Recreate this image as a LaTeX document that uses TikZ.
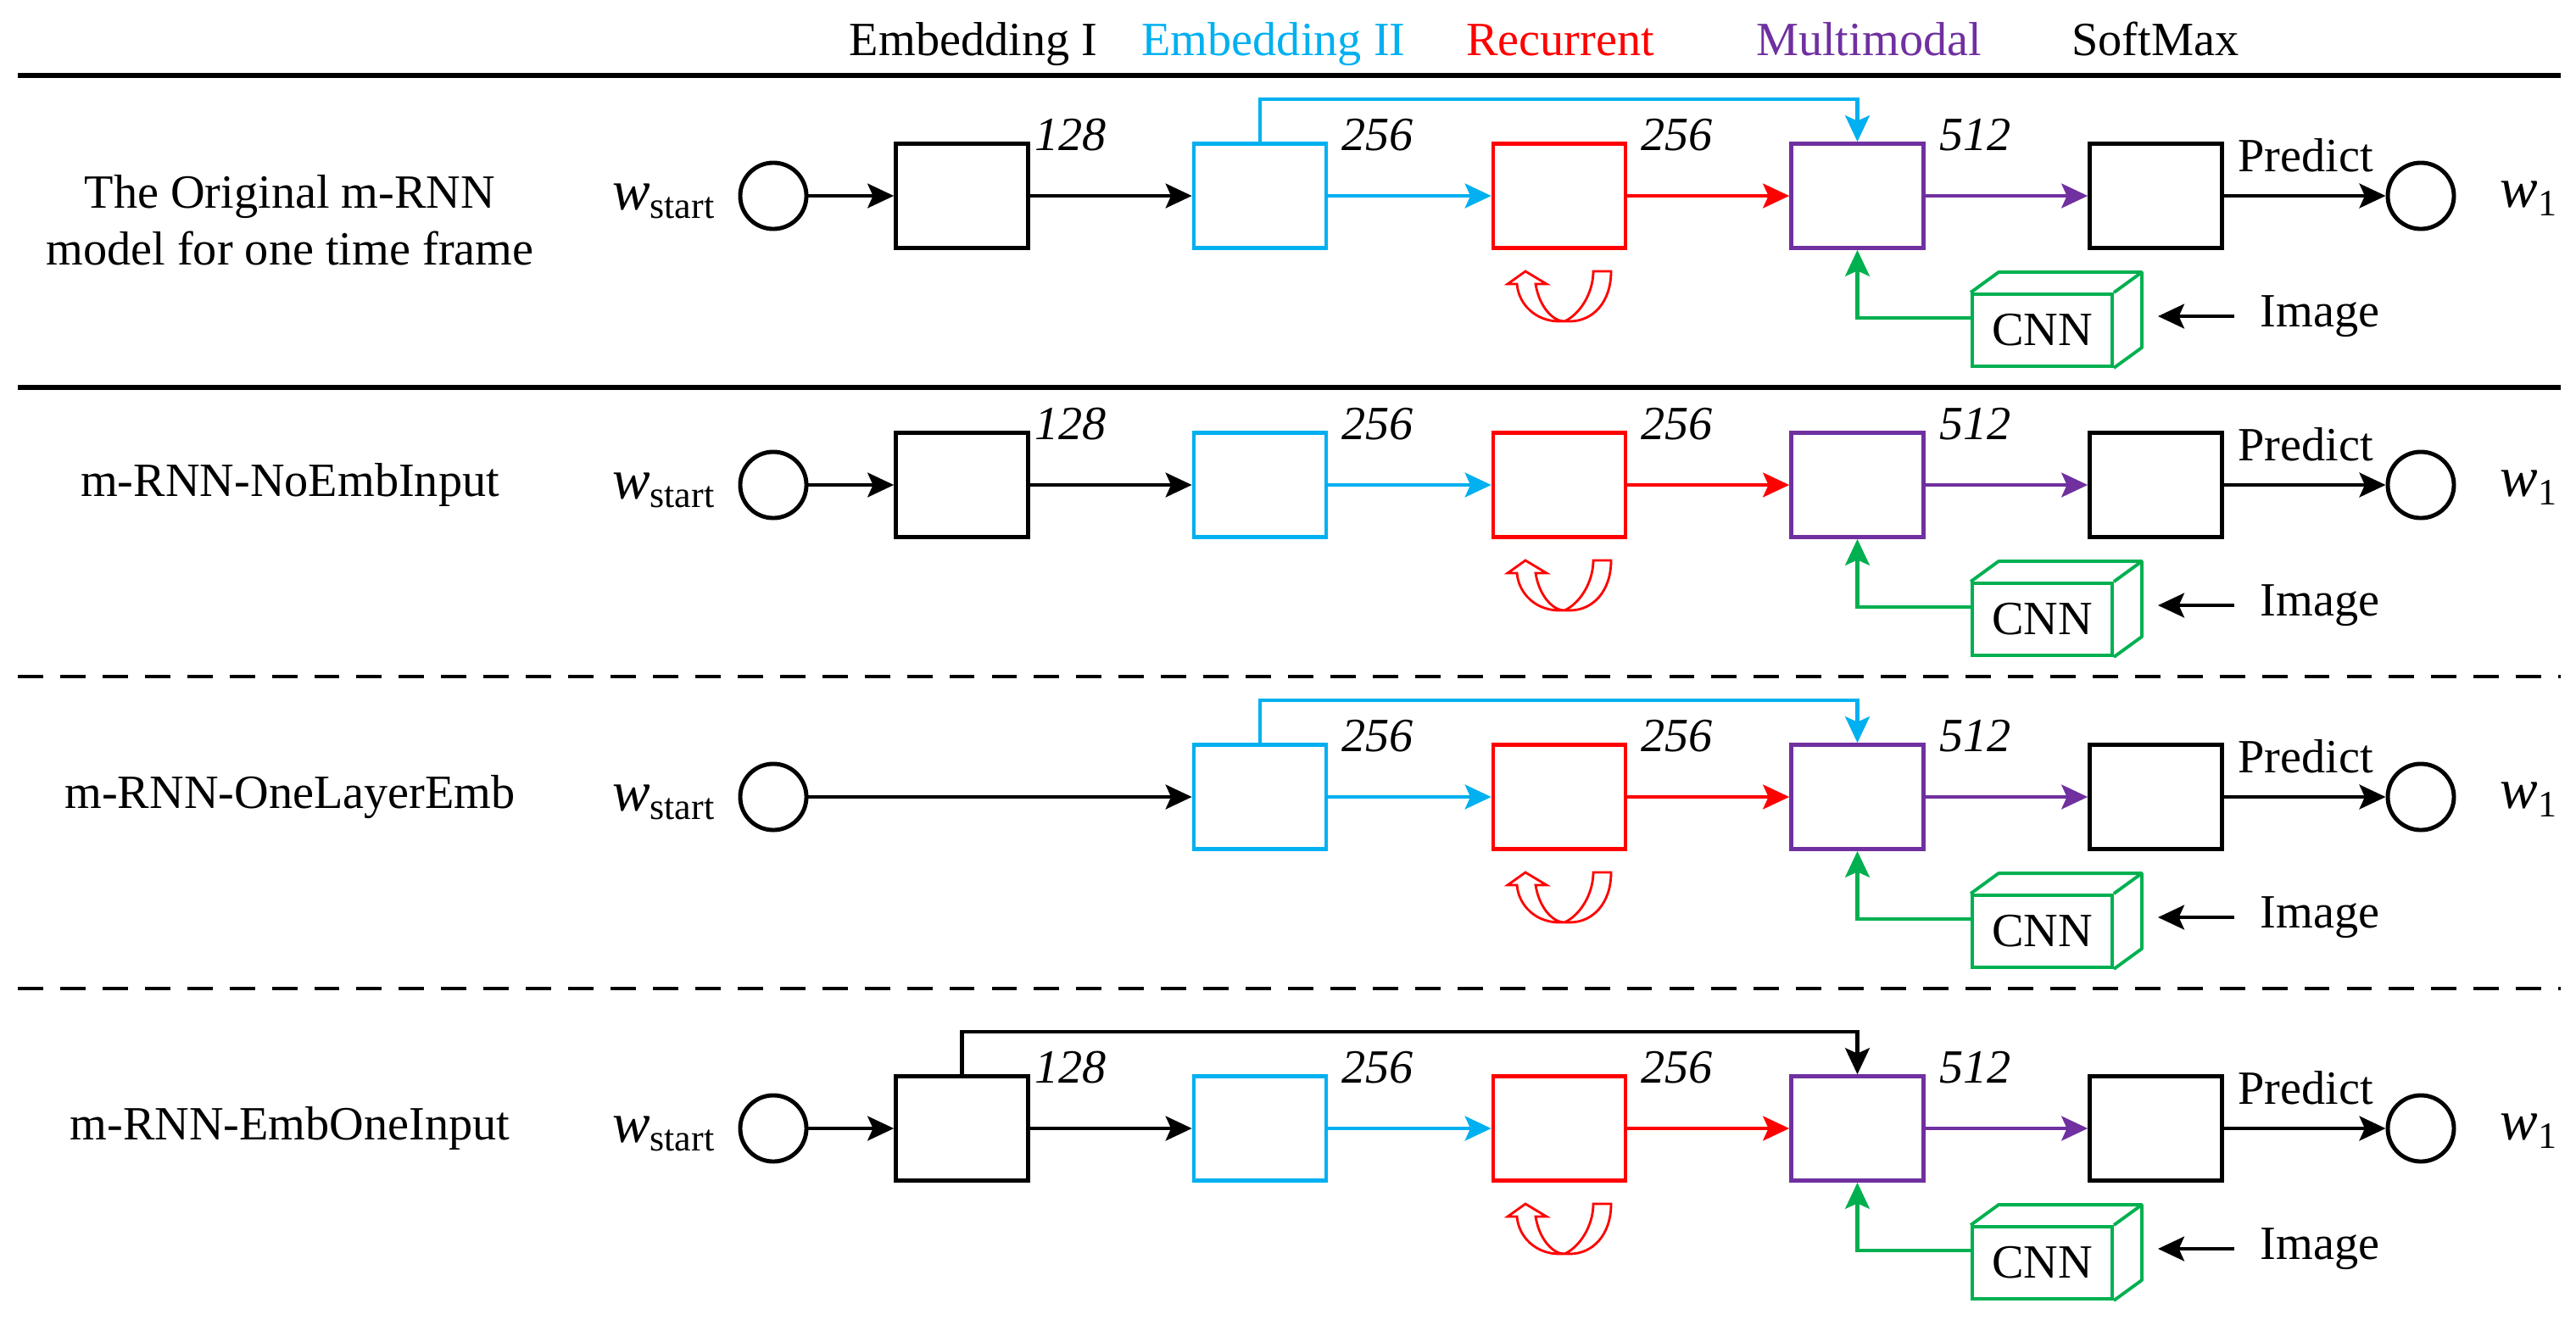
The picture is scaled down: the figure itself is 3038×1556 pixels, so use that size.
\documentclass[tikz,border=0pt]{standalone}
\usepackage{fontspec}
\setmainfont{Liberation Serif}
\usetikzlibrary{arrows.meta}

\definecolor{embtwo}{HTML}{00B0F0}
\definecolor{recred}{HTML}{FF0000}
\definecolor{mmpurple}{HTML}{7030A0}
\definecolor{cnngreen}{HTML}{00B050}

% word symbol w with an upright subscript
\newcommand\wlabel[1]{{\fontsize{19}{22}\selectfont\itshape w}\raisebox{-2.9pt}{\fontsize{12.5}{14}\selectfont #1}}

\tikzset{
  lbl/.style={font=\fontsize{16}{19}\selectfont, inner sep=0pt},
  num/.style={font=\fontsize{16}{19}\selectfont\itshape, inner sep=0pt},
  lyr/.style={draw, line width=1.3pt, minimum width=1.56cm, minimum height=1.23cm, inner sep=0pt},
  wordnode/.style={draw, circle, line width=1.4pt, minimum size=0.78cm, inner sep=0pt},
  flow/.style={line width=1.2pt, -{Stealth[length=8.8pt,width=8.2pt,inset=1.8pt]}},
  cnnface/.style={draw=cnngreen, line width=1.1pt, minimum width=1.65cm, minimum height=0.85cm,
                  inner sep=0pt, font=\fontsize{16}{19}\selectfont},
  cubeline/.style={draw=cnngreen, line width=1.1pt, line join=round},
  hsolid/.style={line width=1.6pt},
  hdash/.style={line width=1.4pt, dash pattern=on 8.5pt off 5.7pt},
  recsym/.style={draw=recred, line width=0.8pt, line join=miter},
}

% layers shared by every variant: Embedding II, Recurrent, Multimodal, SoftMax, CNN
\newcommand\mrnnrow[2]{%
  \node[lyr, draw=embtwo] (e2#1) at (1486,#2) {};
  \node[lyr, draw=recred] (r#1) at (1839,#2) {};
  \node[lyr, draw=mmpurple] (m#1) at (2190.5,#2) {};
  \node[lyr] (s#1) at (2542.5,#2) {};
  \node[wordnode] (o#1) at (2855,#2) {};
  \node[lbl, anchor=base west] (ol#1) at (2948,#2+13) {\wlabel{1}};
  \node[num, anchor=base west] (na#1) at (1582,#2-54) {256};
  \node[num, anchor=base west] (nb#1) at (1935,#2-54) {256};
  \node[num, anchor=base west] (nc#1) at (2287,#2-54) {512};
  \node[lbl, anchor=base] (pr#1) at (2719,#2-29) {Predict};
  \draw[flow, embtwo] (e2#1) -- (r#1);
  \draw[flow, recred] (r#1) -- (m#1);
  \draw[flow, mmpurple] (m#1) -- (s#1);
  \draw[flow] (s#1) -- (o#1);
  % image encoder drawn as a box in perspective
  \node[cnnface] (c#1) at (2408.5,#2+158.5) {CNN};
  \draw[cubeline] (c#1.north west) -- ++(33,-24) -- ([shift={(33,-24)}]c#1.north east)
        -- ([shift={(33,-24)}]c#1.south east) -- (c#1.south east);
  \draw[cubeline] (c#1.north east) -- ([shift={(33,-24)}]c#1.north east);
  \draw[flow, cnngreen] (c#1.170) -| (m#1.south);
  \node[lbl, anchor=west, inner xsep=0.3cm] (im#1) at (2635,#2+142) {Image};
  \draw[flow, shorten >=0.52cm] (im#1.west) -- (im#1.west -| c#1.east);
  % recurrence mark under the recurrent layer
  \begin{scope}[shift={(r#1.center)}]
    \draw[recsym] (-40,89) -- (-15,104) -- (-28,104)
      .. controls (-24,130) and (-8,148) .. (6,148)
      .. controls (24,140) and (40,115) .. (40,89)
      -- (61,89)
      .. controls (61,125) and (40,148) .. (12,148)
      -- (0,148)
      .. controls (-28,148) and (-48,128) .. (-50,104)
      -- (-61,104) -- cycle;
  \end{scope}
}

\begin{document}
\begin{tikzpicture}[x=0.01cm, y=-0.01cm]
\useasboundingbox (0,0) rectangle (3038,1556);

% column headings
\node[lbl, anchor=base] (h1) at (1148,65) {Embedding I};
\node[lbl, anchor=base, text=embtwo] (h2) at (1502,65) {Embedding II};
\node[lbl, anchor=base, text=recred] (h3) at (1840,65) {Recurrent};
\node[lbl, anchor=base, text=mmpurple] (h4) at (2204,65) {Multimodal};
\node[lbl, anchor=base] (h5) at (2542,65) {SoftMax};

% separating rules
\draw[hsolid] (21,89) -- (3020,89);
\draw[hsolid] (21,457) -- (3020,457);
\draw[hdash] (21,798) -- (3020,798);
\draw[hdash] (21,1166) -- (3020,1166);

% ---- the original m-RNN
\node[lbl, align=center] (ta) at (342,260) {The Original m-RNN\\model for one time frame};
\mrnnrow{a}{231}
\node[wordnode] (ia) at (912,231) {};
\node[lbl, anchor=base east] (ila) at (843,247) {\wlabel{start}};
\node[lyr] (e1a) at (1134.5,231) {};
\node[num, anchor=base west] (n1a) at (1220,177) {128};
\draw[flow] (ia) -- (e1a);
\draw[flow] (e1a) -- (e2a);
\draw[flow, embtwo] (e2a.north) -- ++(0,-50) -| (ma.north);

% ---- m-RNN-NoEmbInput
\node[lbl] (tb) at (342,572) {m-RNN-NoEmbInput};
\mrnnrow{b}{572}
\node[wordnode] (ib) at (912,572) {};
\node[lbl, anchor=base east] (ilb) at (843,588) {\wlabel{start}};
\node[lyr] (e1b) at (1134.5,572) {};
\node[num, anchor=base west] (n1b) at (1220,518) {128};
\draw[flow] (ib) -- (e1b);
\draw[flow] (e1b) -- (e2b);

% ---- m-RNN-OneLayerEmb
\node[lbl] (tc) at (342,940) {m-RNN-OneLayerEmb};
\mrnnrow{c}{940}
\node[wordnode] (ic) at (912,940) {};
\node[lbl, anchor=base east] (ilc) at (843,956) {\wlabel{start}};
\draw[flow] (ic) -- (e2c);
\draw[flow, embtwo] (e2c.north) -- ++(0,-50) -| (mc.north);

% ---- m-RNN-EmbOneInput
\node[lbl] (td) at (342,1331) {m-RNN-EmbOneInput};
\mrnnrow{d}{1331}
\node[wordnode] (id) at (912,1331) {};
\node[lbl, anchor=base east] (ild) at (843,1347) {\wlabel{start}};
\node[lyr] (e1d) at (1134.5,1331) {};
\node[num, anchor=base west] (n1d) at (1220,1277) {128};
\draw[flow] (id) -- (e1d);
\draw[flow] (e1d) -- (e2d);
\draw[flow] (e1d.north) -- ++(0,-50) -| (md.north);
\end{tikzpicture}
\end{document}
